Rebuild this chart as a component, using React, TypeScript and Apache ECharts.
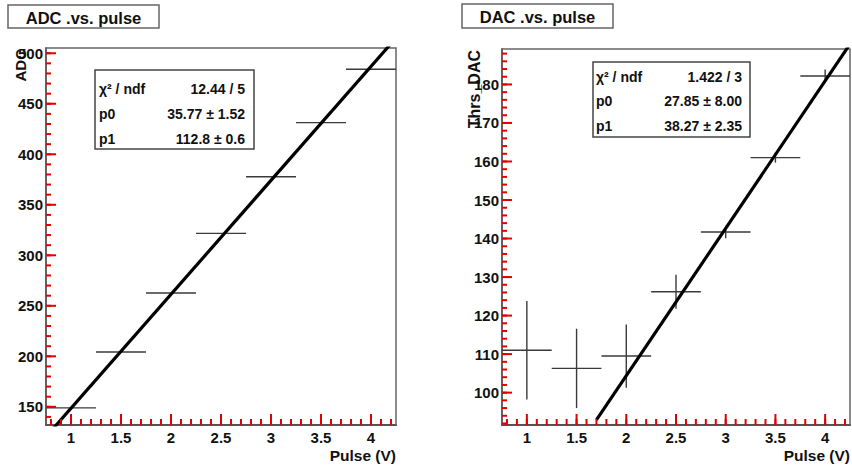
import React, { useEffect, useRef } from "react";
import * as echarts from "echarts";

// ---- data ----
const pulse = [1, 1.5, 2, 2.5, 3, 3.5, 4];
const pulseErr = [0.25, 0.25, 0.25, 0.25, 0.25, 0.25, 0.25];
const adc = [149.0, 204.2, 262.6, 321.7, 377.8, 431.3, 484.2];
const adcErr = [0, 0, 0, 0, 0, 0, 0];
const thrsDac = [111.0, 106.3, 109.5, 126.2, 141.7, 161.0, 182.2];
const thrsDacErr = [12.8, 10.3, 8.2, 4.4, 1.6, 1.3, 1.7];

const adcFitParams = [35.77, 112.8];
const dacFitParams = [27.85, 38.27];
const adcFitRange = [0.75, 4.25];
const dacFitRange = [1.7, 4.25];

const xRange = [0.75, 4.25];
const adcRange = [132, 505.2];
const dacRange = [91.6, 189.2];

const xMajorTicks = [1, 1.5, 2, 2.5, 3, 3.5, 4];
const adcMajorTicks = [150, 200, 250, 300, 350, 400, 450, 500];
const dacMajorTicks = [100, 110, 120, 130, 140, 150, 160, 170, 180];

const adcStats = [
  ["\u03c7\u00b2 / ndf", "12.44 / 5"],
  ["p0", "35.77 \u00b1 1.52"],
  ["p1", "112.8 \u00b1 0.6"],
];
const dacStats = [
  ["\u03c7\u00b2 / ndf", "1.422 / 3"],
  ["p0", "27.85 \u00b1 8.00"],
  ["p1", "38.27 \u00b1 2.35"],
];

const FONT = "Liberation Sans, Arial, Helvetica, sans-serif";

function steps(a: number, b: number, s: number): number[] {
  const out: number[] = [];
  const n = Math.round((b - a) / s);
  for (let i = 0; i <= n; i++) out.push(Math.round((a + i * s) * 1000) / 1000);
  return out;
}
const xMinorTicks = steps(0.8, 4.2, 0.1);
const adcMinorTicks = steps(140, 500, 10);
const dacMinorTicks = steps(92, 188, 2);

function fitLine(p: number[], r: number[]) {
  return r.map((x) => [x, p[0] + p[1] * x]);
}

function errData(xs: number[], ex: number[], ys: number[], ey: number[]) {
  return xs.map((x, i) => [x, ys[i], ex[i], ey[i]]);
}

const renderErr = (params: any, api: any) => {
  const x = api.value(0);
  const y = api.value(1);
  const ex = api.value(2);
  const ey = api.value(3);
  const l = api.coord([x - ex, y]);
  const r = api.coord([x + ex, y]);
  const t = api.coord([x, y + ey]);
  const b = api.coord([x, y - ey]);
  const style = { stroke: "#3a3a3a", lineWidth: 1.4 };
  const children: any[] = [
    { type: "line", shape: { x1: l[0], y1: l[1], x2: r[0], y2: r[1] }, style },
  ];
  if (ey > 0) {
    children.push({ type: "line", shape: { x1: t[0], y1: t[1], x2: b[0], y2: b[1] }, style });
  }
  return { type: "group", children };
};

// Tick marks drawn inside the frame, positioned through the axis scales
function tickSeries(gridIdx: number, dir: "x" | "y", values: number[], other: number, len: number) {
  return {
    type: "custom",
    xAxisIndex: gridIdx,
    yAxisIndex: gridIdx,
    clip: false,
    silent: true,
    z: 4,
    data: values.map((v) => (dir === "x" ? [v, other] : [other, v])),
    encode: { x: 0, y: 1 },
    renderItem: (params: any, api: any) => {
      const p = api.coord([api.value(0), api.value(1)]);
      const shape =
        dir === "x"
          ? { x1: p[0], y1: p[1], x2: p[0], y2: p[1] - len }
          : { x1: p[0], y1: p[1], x2: p[0] + len, y2: p[1] };
      return { type: "line", shape, style: { stroke: "#e00000", lineWidth: 2 } };
    },
  };
}

// Plot frame drawn through the axis scales
function frameSeries(gridIdx: number, yRange: number[]) {
  return {
    type: "custom",
    xAxisIndex: gridIdx,
    yAxisIndex: gridIdx,
    clip: false,
    silent: true,
    z: 1,
    data: [[xRange[0], yRange[0], xRange[1], yRange[1]]],
    encode: { x: 0, y: 1 },
    renderItem: (params: any, api: any) => {
      const a = api.coord([api.value(0), api.value(1)]);
      const b = api.coord([api.value(2), api.value(3)]);
      return {
        type: "rect",
        shape: { x: a[0], y: b[1], width: b[0] - a[0], height: a[1] - b[1] },
        style: { fill: "none", stroke: "#666", lineWidth: 1.5 },
      };
    },
  };
}

function xAxis(gridIndex: number) {
  return {
    type: "value",
    gridIndex,
    position: "bottom",
    min: xRange[0],
    max: xRange[1],
    splitLine: { show: false },
    axisLine: { show: true, onZero: false, lineStyle: { color: "#222", width: 2 } },
    axisTick: { show: false },
    axisLabel: {
      show: true,
      customValues: xMajorTicks,
      margin: 5,
      color: "#111",
      fontFamily: FONT,
      fontWeight: "bold",
      fontSize: 15,
    },
  };
}

function yAxis(gridIndex: number, range: number[], major: number[]) {
  return {
    type: "value",
    gridIndex,
    position: "left",
    min: range[0],
    max: range[1],
    splitLine: { show: false },
    axisLine: { show: true, onZero: false, lineStyle: { color: "#333", width: 1.6 } },
    axisTick: { show: false },
    axisLabel: {
      show: true,
      customValues: major,
      margin: 3,
      color: "#111",
      fontFamily: FONT,
      fontWeight: "bold",
      fontSize: 15,
    },
  };
}

function titleBox(x: number, y: number, w: number, h: number, text: string) {
  return {
    type: "group",
    children: [
      { type: "rect", shape: { x, y, width: w, height: h }, style: { fill: "#fff", stroke: "#666", lineWidth: 1.5 } },
      {
        type: "text",
        x: x + w / 2,
        y: y + h / 2 + 1,
        style: { text, align: "center", verticalAlign: "middle", fill: "#111", fontFamily: FONT, fontWeight: "bold", fontSize: 16.5 },
      },
    ],
  };
}

function statsBox(x: number, y: number, w: number, h: number, rows: string[][], rowYs: number[], lx: number, rx: number) {
  const children: any[] = [
    { type: "rect", shape: { x, y, width: w, height: h }, style: { fill: "#fff", stroke: "#444", lineWidth: 1.5 } },
  ];
  rows.forEach((r, i) => {
    children.push({
      type: "text",
      x: lx,
      y: rowYs[i],
      style: { text: r[0], align: "left", verticalAlign: "middle", fill: "#111", fontFamily: FONT, fontWeight: "bold", fontSize: 14 },
    });
    children.push({
      type: "text",
      x: rx,
      y: rowYs[i],
      style: { text: r[1], align: "right", verticalAlign: "middle", fill: "#111", fontFamily: FONT, fontWeight: "bold", fontSize: 14 },
    });
  });
  return { type: "group", children };
}

function vText(x: number, y: number, text: string, size: number) {
  return {
    type: "text",
    x,
    y,
    rotation: Math.PI / 2,
    style: { text, align: "right", verticalAlign: "middle", fill: "#111", fontFamily: FONT, fontWeight: "bold", fontSize: size },
  };
}

function hText(x: number, y: number, text: string) {
  return {
    type: "text",
    x,
    y,
    style: { text, align: "right", verticalAlign: "middle", fill: "#111", fontFamily: FONT, fontWeight: "bold", fontSize: 15.5 },
  };
}

export default function App() {
  const ref = useRef<HTMLDivElement>(null);
  useEffect(() => {
    if (!ref.current) return;
    const chart = echarts.init(ref.current, null, { renderer: "svg" });
    const option: any = {
      animation: false,
      grid: [
        { left: 46, top: 48, width: 350, height: 377 },
        { left: 502, top: 49, width: 348, height: 376 },
      ],
      xAxis: [xAxis(0), xAxis(1)],
      yAxis: [yAxis(0, adcRange, adcMajorTicks), yAxis(1, dacRange, dacMajorTicks)],
      series: [
        frameSeries(0, adcRange),
        frameSeries(1, dacRange),
        tickSeries(0, "x", xMinorTicks, adcRange[0], 6),
        tickSeries(0, "x", xMajorTicks, adcRange[0], 11),
        tickSeries(0, "y", adcMinorTicks, xRange[0], 5),
        tickSeries(0, "y", adcMajorTicks, xRange[0], 10),
        tickSeries(1, "x", xMinorTicks, dacRange[0], 6),
        tickSeries(1, "x", xMajorTicks, dacRange[0], 11),
        tickSeries(1, "y", dacMinorTicks, xRange[0], 5),
        tickSeries(1, "y", dacMajorTicks, xRange[0], 10),
        {
          type: "custom",
          xAxisIndex: 0,
          yAxisIndex: 0,
          renderItem: renderErr,
          data: errData(pulse, pulseErr, adc, adcErr),
          encode: { x: 0, y: 1 },
          clip: true,
          z: 2,
        },
        {
          type: "line",
          xAxisIndex: 0,
          yAxisIndex: 0,
          data: fitLine(adcFitParams, adcFitRange),
          showSymbol: false,
          symbol: "none",
          clip: true,
          lineStyle: { color: "#000", width: 3.2 },
          z: 3,
        },
        {
          type: "custom",
          xAxisIndex: 1,
          yAxisIndex: 1,
          renderItem: renderErr,
          data: errData(pulse, pulseErr, thrsDac, thrsDacErr),
          encode: { x: 0, y: 1 },
          clip: true,
          z: 2,
        },
        {
          type: "line",
          xAxisIndex: 1,
          yAxisIndex: 1,
          data: fitLine(dacFitParams, dacFitRange),
          showSymbol: false,
          symbol: "none",
          clip: true,
          lineStyle: { color: "#000", width: 3.2 },
          z: 3,
        },
      ],
      graphic: [
        titleBox(8, 5, 151, 23, "ADC .vs. pulse"),
        titleBox(462, 4, 151, 24, "DAC .vs. pulse"),
        statsBox(95, 70, 159, 79, adcStats, [88.5, 113.5, 138.5], 99, 245),
        statsBox(593, 62, 157, 75, dacStats, [77, 101, 125.5], 596, 742),
        vText(20, 49, "ADC", 15),
        vText(474, 50, "Thrs_DAC", 16),
        hText(396, 455, "Pulse (V)"),
        hText(850, 455, "Pulse (V)"),
      ],
    };
    chart.setOption(option);
    return () => chart.dispose();
  }, []);
  return (
    <div
      ref={ref}
      style={{ position: "fixed", left: 0, top: 0, width: 852, height: 468, background: "#fff" }}
    />
  );
}
